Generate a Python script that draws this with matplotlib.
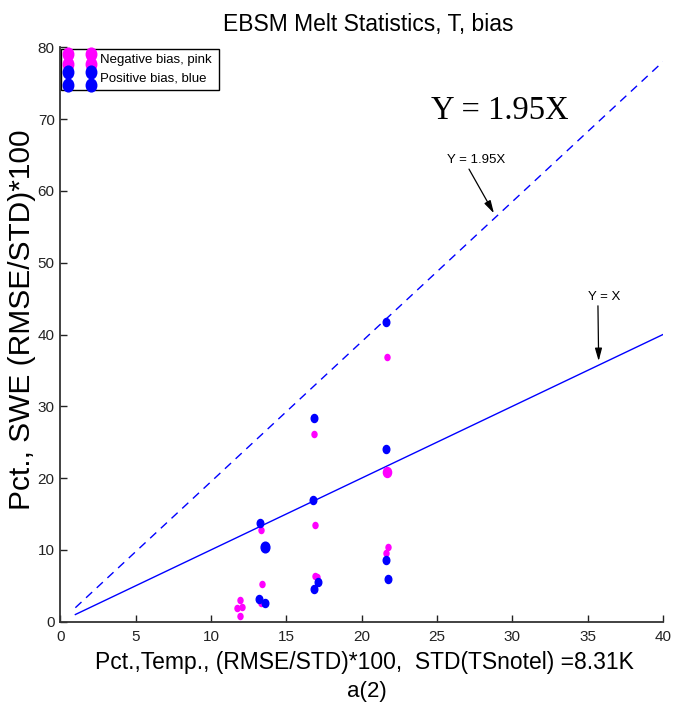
import matplotlib
matplotlib.use("Agg")
import matplotlib.pyplot as plt
from matplotlib.path import Path
from matplotlib.transforms import Affine2D
from matplotlib.patches import Rectangle

plt.rcParams['font.family'] = ['Liberation Sans', 'DejaVu Sans']

# ---- data ----
neg_x = [21.70, 16.83, 21.66, 13.30, 16.90, 21.75, 21.63, 13.36, 16.88, 17.05, 13.32, 11.92, 11.75, 12.04, 11.94]
neg_y = [36.8, 26.1, 20.85, 12.8, 13.5, 10.4, 9.5, 5.3, 6.4, 6.27, 2.65, 3.0, 1.87, 2.0, 0.84]
neg_big = [False, False, True, False, False, False, False, False, False, False, False, False, False, False, False]

pos_x = [21.59, 16.85, 21.61, 16.79, 13.23, 13.56, 21.59, 21.75, 17.12, 16.83, 13.17, 13.56]
pos_y = [41.8, 28.4, 24.0, 16.95, 13.7, 10.36, 8.6, 6.0, 5.57, 4.55, 3.2, 2.65]
pos_big = [False, False, False, False, False, True, False, False, False, False, False, False]

line_x = [1, 40]
slope_dashed = 1.95
xticks = [0, 5, 10, 15, 20, 25, 30, 35, 40]
yticks = [0, 10, 20, 30, 40, 50, 60, 70, 80]

title = "EBSM Melt Statistics, T, bias"
xlabel = "Pct.,Temp., (RMSE/STD)*100,  STD(TSnotel) =8.31K"
ylabel = "Pct., SWE (RMSE/STD)*100"
sublabel = "a(2)"
legend_labels = ["Negative bias, pink", "Positive bias, blue"]

W, H = 673, 708
fig = plt.figure(figsize=(W / 100, H / 100), dpi=100)
ax = fig.add_axes([60.3 / W, 1 - 621.7 / H, (663 - 60.3) / W, (621.7 - 47.3) / H])

oval = Path.unit_circle().transformed(Affine2D().scale(0.82, 1.0))

pink = '#ff00ff'
blue = '#0000ff'

# lines
ax.plot(line_x, line_x, color=blue, lw=1.0)
ax.plot(line_x, [slope_dashed * v for v in line_x], color=blue, lw=1.0, dashes=(6, 4.5))

for x, y, big in zip(neg_x, neg_y, neg_big):
    ax.plot(x, y, marker=oval, ms=7.2 if big else 4.4, color=pink, mec=pink, ls='none')
for x, y, big in zip(pos_x, pos_y, pos_big):
    ax.plot(x, y, marker=oval, ms=7.7 if big else 5.8, color=blue, mec=blue, ls='none')

ax.set_xlim(0, 40)
ax.set_ylim(0, 80)
ax.set_xticks(xticks)
ax.set_yticks(yticks)
ax.tick_params(direction='in', length=5, width=1, colors='#222222', labelsize=11)
ax.tick_params(axis='x', pad=6)
ax.tick_params(axis='y', pad=4)
ax.spines['top'].set_visible(False)
ax.spines['right'].set_visible(False)
for s in ['left', 'bottom']:
    ax.spines[s].set_color('#333333')
    ax.spines[s].set_linewidth(1.3)

# annotations
ax.text(29.14, 69.97, "Y = 1.95X", family=['Liberation Serif'], fontsize=23.5, ha='center', va='baseline')
ax.annotate("Y = 1.95X", xy=(28.78, 56.88), xytext=(27.6, 63.84), fontsize=9.5, ha='center', va='baseline',
            arrowprops=dict(arrowstyle='-|>,head_length=0.8,head_width=0.22', color='black', lw=0.9,
                            shrinkA=0, shrinkB=0, relpos=(0.35, 0)))
ax.annotate("Y = X", xy=(35.73, 36.3), xytext=(36.11, 44.8), fontsize=9.5, ha='center', va='baseline',
            arrowprops=dict(arrowstyle='-|>,head_length=0.8,head_width=0.22', color='black', lw=0.9,
                            shrinkA=0, shrinkB=0, relpos=(0.3, 0)))

# legend (manual, MATLAB style)
def ax_fx(px):
    return (px - 60.3) / (663 - 60.3)

def ax_fy(py):
    return (621.7 - py) / (621.7 - 47.3)

ax.add_patch(Rectangle((ax_fx(61), ax_fy(90)), ax_fx(219) - ax_fx(61), ax_fy(48.5) - ax_fy(90),
                       transform=ax.transAxes, fill=True, facecolor='white', edgecolor='black', lw=1.0,
                       clip_on=False, zorder=5))
for mx in [68.3, 90.5]:
    for my in [54, 64]:
        ax.plot(ax_fx(mx), ax_fy(my), marker=oval, ms=9.2, color=pink, transform=ax.transAxes,
                clip_on=False, zorder=6)
    for my in [72, 85]:
        ax.plot(ax_fx(mx), ax_fy(my), marker=oval, ms=9.2, color=blue, transform=ax.transAxes,
                clip_on=False, zorder=6)
ax.text(ax_fx(99.5), ax_fy(60.5), legend_labels[0], transform=ax.transAxes, fontsize=9.5,
        va='center', ha='left', zorder=7)
ax.text(ax_fx(99.5), ax_fy(78.5), legend_labels[1], transform=ax.transAxes, fontsize=9.5,
        va='center', ha='left', zorder=7)

# labels
fig.text(368 / W, 1 - 31 / H, title, fontsize=16.5, ha='center', va='baseline')
fig.text(364 / W, 1 - 669 / H, xlabel, fontsize=16.5, ha='center', va='baseline')
fig.text(367 / W, 1 - 697 / H, sublabel, fontsize=16, ha='center', va='baseline')
fig.text(22 / W, 1 - 320 / H, ylabel, fontsize=21.5, ha='center', va='center', rotation=90)

fig.savefig("out.png", dpi=100)
